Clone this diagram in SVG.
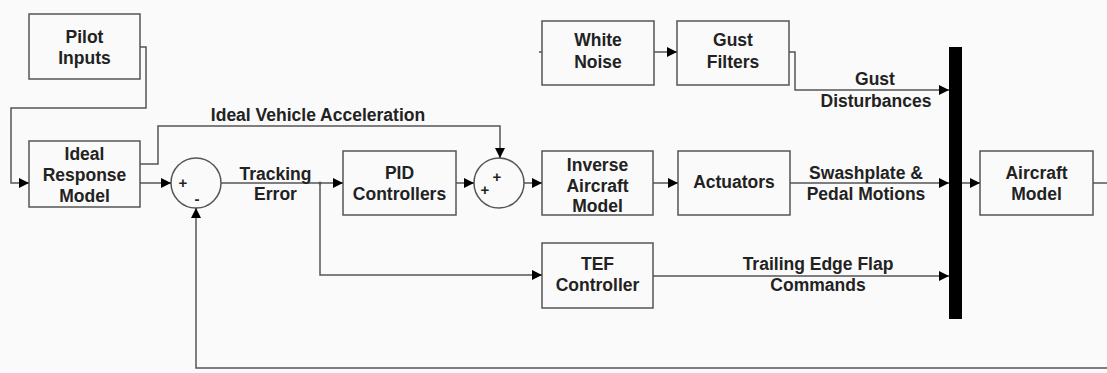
<svg xmlns="http://www.w3.org/2000/svg" width="1107" height="373" viewBox="0 0 1107 373">
<defs>
<marker id="ah" viewBox="0 0 10 10" refX="10" refY="5" markerWidth="10" markerHeight="10" markerUnits="userSpaceOnUse" orient="auto">
<path d="M0,0 L10,5 L0,10 Z" fill="#000"/>
</marker>
<style>
.box{fill:none;stroke:#555;stroke-width:1.5}
.sum{fill:none;stroke:#555;stroke-width:1.5}
.ln{fill:none;stroke:#555;stroke-width:1.5}
.arr{marker-end:url(#ah)}
text{font-family:"Liberation Sans",Arial,sans-serif;font-size:17.5px;font-weight:bold;fill:#222;text-anchor:middle}
.sign{font-size:15px}
</style>
</defs>
<rect x="0" y="0" width="1107" height="373" fill="#fafafa"/>

<g id="pilot-inputs">
<rect class="box" x="29" y="14" width="111" height="65"/>
<text x="84.5" y="43">Pilot</text>
<text x="84.5" y="64">Inputs</text>
</g>

<g id="ideal-response-model">
<rect class="box" x="29" y="141" width="111" height="66"/>
<text x="84.5" y="160">Ideal</text>
<text x="84.5" y="181">Response</text>
<text x="84.5" y="202">Model</text>
</g>

<g id="sum1">
<circle class="sum" cx="196" cy="183" r="25"/>
<text class="sign" x="183" y="188">+</text>
<text class="sign" x="197" y="204">-</text>
</g>

<g id="pid-controllers">
<rect class="box" x="343" y="151" width="113" height="64"/>
<text x="399.5" y="179">PID</text>
<text x="399.5" y="200">Controllers</text>
</g>

<g id="sum2">
<circle class="sum" cx="499" cy="183" r="25"/>
<text class="sign" x="485" y="195">+</text>
<text class="sign" x="497" y="182">+</text>
</g>

<g id="inverse-aircraft-model">
<rect class="box" x="542" y="151" width="111" height="64"/>
<text x="597.5" y="171">Inverse</text>
<text x="597.5" y="192">Aircraft</text>
<text x="597.5" y="212">Model</text>
</g>

<g id="actuators">
<rect class="box" x="678" y="151" width="112" height="64"/>
<text x="734" y="188">Actuators</text>
</g>

<g id="white-noise">
<rect class="box" x="542" y="21" width="112" height="64"/>
<text x="598" y="46">White</text>
<text x="598" y="68">Noise</text>
</g>

<g id="gust-filters">
<rect class="box" x="677" y="21" width="112" height="64"/>
<text x="733" y="46">Gust</text>
<text x="733" y="68">Filters</text>
</g>

<g id="tef-controller">
<rect class="box" x="542" y="243" width="111" height="65"/>
<text x="597.5" y="270">TEF</text>
<text x="597.5" y="291">Controller</text>
</g>

<g id="mixer-bar">
<rect x="949" y="47" width="13" height="272" fill="#000"/>
</g>

<g id="aircraft-model">
<rect class="box" x="980" y="151" width="113" height="64"/>
<text x="1036.5" y="179">Aircraft</text>
<text x="1036.5" y="200">Model</text>
</g>

<g id="connectors">
<polyline class="ln arr" points="140,47 146,47 146,108 11,108 11,183 29,183"/>
<polyline class="ln arr" points="140,183 171,183"/>
<polyline class="ln arr" points="140,164 158,164 158,126 500,126 500,158"/>
<polyline class="ln arr" points="221,183 343,183"/>
<polyline class="ln arr" points="320,183 320,275 542,275"/>
<circle cx="320" cy="183" r="1.5" fill="#555"/>
<polyline class="ln arr" points="1107,368 196,368 196,208"/>
<polyline class="ln arr" points="456,183 474,183"/>
<polyline class="ln arr" points="524,183 542,183"/>
<polyline class="ln arr" points="653,183 678,183"/>
<polyline class="ln arr" points="790,183 949,183"/>
<polyline class="ln arr" points="653,276 949,276"/>
<polyline class="ln arr" points="962,183 980,183"/>
<polyline class="ln" points="1093,183 1107,183"/>
<polyline class="ln" points="539,52 542,52"/>
<polyline class="ln arr" points="654,52 677,52"/>
<polyline class="ln arr" points="789,52 795,52 795,90 949,90"/>
<text x="318" y="121">Ideal Vehicle Acceleration</text>
<text x="275.5" y="180">Tracking</text>
<text x="275.5" y="200">Error</text>
<text x="875" y="85">Gust</text>
<text x="876" y="107">Disturbances</text>
<text x="866" y="179">Swashplate &amp;</text>
<text x="866" y="200">Pedal Motions</text>
<text x="818" y="270">Trailing Edge Flap</text>
<text x="818" y="291">Commands</text>
</g>
</svg>
